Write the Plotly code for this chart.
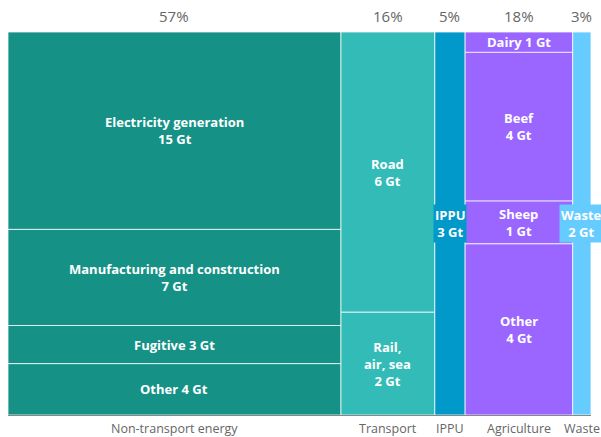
import plotly.graph_objects as go

sectors = ["Non-transport energy", "Transport", "IPPU", "Agriculture", "Waste"]
sector_pct_labels = ["57%", "16%", "5%", "18%", "3%"]
sector_colors = ["#169186", "#33BBB8", "#0099CA", "#9B66FF", "#66CCFF"]

# sub-segments listed top to bottom (Gt CO2e)
sub_values = [
    [15.0, 7.3, 2.9, 3.9],
    [6.0, 2.2],
    [2.65],
    [0.5, 3.65, 1.05, 4.2],
    [1.6],
]
sub_labels = [
    ["Electricity generation<br>15 Gt", "Manufacturing and construction<br>7 Gt", "Fugitive 3 Gt", "Other 4 Gt"],
    ["Road<br>6 Gt", "Rail,<br>air, sea<br>2 Gt"],
    ["IPPU<br>3 Gt"],
    ["Dairy 1 Gt", "Beef<br>4 Gt", "Sheep<br>1 Gt", "Other<br>4 Gt"],
    ["Waste<br>2 Gt"],
]
boxed_label = [False, False, True, False, True]

totals = [sum(v) for v in sub_values]
grand = sum(totals)

fig = go.Figure()
annotations = []
x0 = 0.0
for i, sec in enumerate(sectors):
    w = totals[i]
    cx = x0 + w / 2
    top = 1.0
    for val, lab in zip(sub_values[i], sub_labels[i]):
        frac = val / totals[i]
        base = top - frac
        fig.add_trace(go.Bar(
            x=[cx], y=[frac], base=[base], width=[w],
            marker=dict(color=sector_colors[i], line=dict(color="rgba(255,255,255,0.75)", width=1)),
            hoverinfo="skip", showlegend=False,
        ))
        ann = dict(x=cx, y=base + frac / 2, xref="x", yref="y", text=f"<b>{lab}</b>",
                   showarrow=False, font=dict(family="Open Sans", size=13, color="white"))
        if boxed_label[i]:
            ann.update(bgcolor=sector_colors[i], borderpad=1)
        annotations.append(ann)
        top = base
    annotations.append(dict(x=cx, y=1, xref="x", yref="paper", yshift=4, yanchor="bottom",
                            text=sector_pct_labels[i], showarrow=False,
                            font=dict(family="Open Sans", size=15, color="#666666")))
    annotations.append(dict(x=cx, y=0, xref="x", yref="paper", yshift=-3, yanchor="top",
                            text=sec, showarrow=False,
                            font=dict(family="Open Sans", size=12.5, color="#666666")))
    x0 += w

fig.update_layout(
    width=601, height=437,
    margin=dict(l=8, r=10, t=32, b=22),
    paper_bgcolor="white", plot_bgcolor="white",
    barmode="overlay",
    annotations=annotations,
    xaxis=dict(range=[0, grand], showgrid=False, zeroline=False, showticklabels=False,
               showline=True, linecolor="#888888", linewidth=1, ticks=""),
    yaxis=dict(range=[0, 1], showgrid=False, zeroline=False, showticklabels=False, ticks=""),
    font=dict(family="Open Sans"),
)
fig.write_html("out.html", config={"displayModeBar": False},
               post_script="document.body.style.margin='0';")
